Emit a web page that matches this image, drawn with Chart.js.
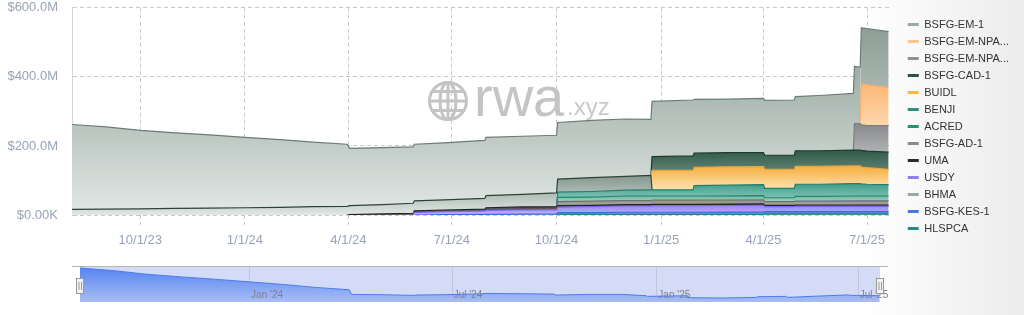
<!DOCTYPE html>
<html>
<head>
<meta charset="utf-8">
<script src="https://cdn.jsdelivr.net/npm/chart.js@4.4.1/dist/chart.umd.min.js"></script>
<style>
  html, body { margin: 0; padding: 0; }
  body {
    width: 1024px; height: 315px; overflow: hidden; position: relative;
    background: linear-gradient(90deg, #ffffff 0%, #ffffff 84%, #ececec 100%);
    font-family: "Liberation Sans", Arial, sans-serif;
  }
  #main { position: absolute; left: 0; top: 0; }
  #nav { position: absolute; left: 0; top: 256px; }
  .mark { position: absolute; color: #c4c4c4; line-height: 1; pointer-events: none; white-space: nowrap; }
  #globe { position: absolute; left: 427px; top: 80px; pointer-events: none; }
</style>
</head>
<body>
<canvas id="main" width="1024" height="254"></canvas>
<canvas id="nav" width="1024" height="59"></canvas>
<svg id="globe" width="42" height="42" viewBox="0 0 42 42">
  <g fill="none" stroke="#c4c4c4" stroke-width="3">
    <circle cx="21" cy="21" r="18.5"/>
    <ellipse cx="21" cy="21" rx="8" ry="18.5"/>
    <line x1="21" y1="2.5" x2="21" y2="39.5"/>
    <line x1="2.5" y1="21" x2="39.5" y2="21"/>
    <path d="M6 11.5 H36 M6 30.5 H36"/>
  </g>
</svg>
<div class="mark" style="left:474px; top:69px; font-size:56px;">rwa</div>
<div class="mark" style="left:567px; top:95px; font-size:24px; color:#cacaca;">.xyz</div>

<script>
// breakpoints (jumps are given as two dates one day apart)
const dates = ['2023-08-02','2023-09-01','2023-10-01','2023-11-01','2023-12-01','2024-01-01',
  '2024-02-01','2024-03-01','2024-03-31','2024-04-02','2024-05-01','2024-05-28','2024-05-29',
  '2024-06-24','2024-07-30','2024-07-31','2024-09-01','2024-10-01','2024-10-02','2024-11-01',
  '2024-12-01','2024-12-23','2024-12-24','2025-01-29','2025-01-30','2025-03-01','2025-04-01',
  '2025-04-02','2025-04-28','2025-04-29','2025-05-20','2025-06-19','2025-06-20','2025-06-25',
  '2025-06-26','2025-07-01','2025-07-20'];

// values in $M
const hlspca = [0,0,0,0,0,0,0,0,0,0,0,0,0,0,0,0,0,0,2,2,2,2,2,2,2,2,2,3,3,3,3,3,3,3,3,3,3];
const kes1   = [0,0,0,0,0,0,0,0,0,0,0,0,0,1.5,2,2,2.5,3,5,5,6,6,6,6,6,6.5,7,7,7,7,7,7,7,7,7,7,7];
const usdy   = [0,0,0,0,0,0,0,0,0,0,0,0,7,8,9,11,12,12,16,17,18,18,19,19,19,19,19,14,14,15,15,15,15,15,15,15,15];
const uma    = [0,0,0,0,0,0,0,0,0,1.5,3,5,5,5,6,8,9,9,4,4,4,4,4,4,4,4,4,4,4,4,4,4,4,4,4,4,4];
const ad1    = [0,0,0,0,0,0,0,0,0,0,0,0,0,0,0,0,0,0,12,12,12,12,12,12,12,12,12,11,11,11,11,12,12,12,12,12,12];
const acred  = [0,0,0,0,0,0,0,0,0,0,0,0,0,0,0,0,0,0,12,12,13,13,12,12,12,12,12,11,11,14,14,14,14,14,14,14,14];
const benji  = [0,0,0,0,0,0,0,0,0,0,0,0,0,0,0,0,0,0,15,16,17,18,18,18,30,31,32,27,27,35,35,36,36,36,35,34,33];
const bhma   = [16,17,18,19,20,21,22,24,25,25.5,27,29,29,29.5,31,35,36.5,40,38,40,40,42,0,0,0,0,0,0,0,0,0,0,0,0,0,0,0];
const buidl  = [0,0,0,0,0,0,0,0,0,0,0,0,0,0,0,0,0,0,0,0,0,0,56,56,53,53,52,55,55,52,52,51,51,51,49,48,44];
const cad1   = [0,0,0,0,0,0,0,0,0,0,0,0,0,0,0,0,0,0,0,0,0,0,40,42,41,41,41,41,41,45,45,46,46,46,48,48,50];
const npa2   = [0,0,0,0,0,0,0,0,0,0,0,0,0,0,0,0,0,0,0,0,0,0,0,0,0,0,0,0,0,0,0,0,77,77,74,74,77];
const npa1   = [0,0,0,0,0,0,0,0,0,0,0,0,0,0,0,0,0,0,0,0,0,0,0,0,0,0,0,0,0,0,0,0,0,0,118,118,110];
const em1    = [246,238,227,219,212,204,196,187,180,166,165,163,164,165,168,169,168,167,164,166,166,162,
  160,162,156,155,157,159,160,157,160,164,165,163,163,163,162];

const tickDates = ['2023-10-01','2024-01-01','2024-04-01','2024-07-01','2024-10-01','2025-01-01','2025-04-01','2025-07-01'];
const tickLabels = ['10/1/23','1/1/24','4/1/24','7/1/24','10/1/24','1/1/25','4/1/25','7/1/25'];
const yTicks = [0, 200, 400, 600];
const yTickLabels = ['$0.00K','$200.0M','$400.0M','$600.0M'];
const navTickDates = ['2024-01-01','2024-07-01','2025-01-01','2025-07-01'];
const navTickLabels = ["Jan '24","Jul '24","Jan '25","Jul '25"];

const legendOrder = ['BSFG-EM-1','BSFG-EM-NPA-1','BSFG-EM-NPA-2','BSFG-CAD-1','BUIDL','BENJI','ACRED',
  'BSFG-AD-1','UMA','USDY','BHMA','BSFG-KES-1','HLSPCA'];

const ms = (d) => Date.parse(d + 'T00:00:00Z');
const xMin = ms('2023-08-02');
const xMax = ms('2025-07-21');

// stack order, bottom first: [label, values, line, fill top, fill bottom, swatch]
const series = [
  ['HLSPCA', hlspca, '#23877c', '#2d9b8e', '#6dc1b6', '#2b8a7e'],
  ['BSFG-KES-1', kes1, '#3a6be0', '#4f7fe6', '#7fa2ee', '#4a78e8'],
  ['USDY', usdy, '#7c69ea', '#9886f2', '#c1b5f8', '#8f7ff0'],
  ['UMA', uma, '#222222', '#4a4a4a', '#6b6b6b', '#2a2a2a'],
  ['BSFG-AD-1', ad1, '#6f6f6f', '#8f8f8f', '#a9a9a9', '#8a8a8a'],
  ['ACRED', acred, '#1f8a6a', '#6db5a3', '#9fd0c3', '#23936f'],
  ['BENJI', benji, '#217d6b', '#3f9c8a', '#7fc2b3', '#2f8f7c'],
  ['BHMA', bhma, '#2e4139', '#84978d', '#e2e8e5', '#9aaaa2'],
  ['BUIDL', buidl, '#eca33a', '#f6ae3d', '#fde3b2', '#f6b84a'],
  ['BSFG-CAD-1', cad1, '#1d3a2e', '#2f5a48', '#5d8072', '#2d5243'],
  ['BSFG-EM-NPA-2', npa2, '#7a7c7f', '#87898c', '#b0b2b4', '#8f9193'],
  ['BSFG-EM-NPA-1', npa1, '#f7ad6a', '#fdb877', '#fdd6ab', '#fcc58f'],
  ['BSFG-EM-1', em1, '#6a7c74', '#8d9e96', '#e0e6e3', '#98aaa2'],
];

// vertical gradient spanning the band's own highest top and lowest base
function bandFill(i) {
  return (ctx) => {
    const chart = ctx.chart;
    const y = chart.scales.y;
    if (!chart.chartArea || !y) return series[i][4];
    let hi = 0, lo = Infinity;
    dates.forEach((d, k) => {
      if (!series[i][1][k]) return;
      let base = 0;
      for (let j = 0; j < i; j++) base += series[j][1][k];
      hi = Math.max(hi, base + series[i][1][k]);
      lo = Math.min(lo, base);
    });
    const g = chart.ctx.createLinearGradient(0, y.getPixelForValue(hi), 0, y.getPixelForValue(lo));
    g.addColorStop(0, series[i][3]);
    g.addColorStop(1, series[i][4]);
    return g;
  };
}

const datasets = series.map((s, i) => ({
  label: s[0],
  data: dates.map((d, k) => ({ x: ms(d), y: s[1][k] })),
  borderColor: s[2],
  borderWidth: 1.2,
  backgroundColor: bandFill(i),
  swatch: s[5],
  fill: i === 0 ? 'origin' : '-1',
  pointRadius: 0,
  tension: 0,
  segment: {
    // no line where the series is absent
    borderColor: (c) => (c.p0.parsed.y === 0 && c.p1.parsed.y === 0 ? 'rgba(0,0,0,0)' : undefined),
  },
}));

const axisColor = '#98a3b8';

// move the legend block a little right and down after layout
const legendNudge = {
  id: 'legendNudge',
  afterLayout(chart) {
    const lg = chart.legend;
    lg.left += 12; lg.right += 12;
    lg.top += 13; lg.bottom += 13;
  },
};

new Chart(document.getElementById('main'), {
  type: 'line',
  data: { datasets },
  options: {
    responsive: false,
    animation: false,
    events: [],
    layout: { padding: { top: 0, right: 17, left: 0, bottom: 0 } },
    plugins: {
      tooltip: { enabled: false },
      legend: {
        position: 'right',
        align: 'start',
        labels: {
          boxWidth: 11,
          boxHeight: 3,
          padding: 6,
          color: '#333333',
          font: { family: '"Liberation Sans", Arial, sans-serif', size: 11 },
          sort: (a, b) => legendOrder.indexOf(datasets[a.datasetIndex].label) - legendOrder.indexOf(datasets[b.datasetIndex].label),
          generateLabels: (chart) => chart.data.datasets.map((ds, i) => ({
            text: ds.label.length > 12 ? ds.label.slice(0, 11) + '...' : ds.label,
            fillStyle: ds.swatch,
            strokeStyle: ds.swatch,
            lineWidth: 0,
            fontColor: '#333333',
            hidden: false,
            datasetIndex: i,
          })),
        },
      },
    },
    scales: {
      x: {
        type: 'linear',
        min: xMin,
        max: xMax,
        afterBuildTicks: (scale) => { scale.ticks = tickDates.map((d) => ({ value: ms(d) })); },
        afterFit: (scale) => { scale.height = 39; },
        ticks: {
          color: axisColor,
          padding: 8,
          maxRotation: 0,
          font: { family: '"Liberation Sans", Arial, sans-serif', size: 13 },
          callback: (v) => tickLabels[tickDates.map(ms).indexOf(v)],
        },
        grid: { color: '#c9c9c9', tickLength: 10, tickColor: '#c9c9c9', tickBorderDash: [4, 3] },
        border: { display: false, dash: [4, 3] },
      },
      y: {
        stacked: true,
        min: 0,
        max: 600,
        afterBuildTicks: (scale) => { scale.ticks = yTicks.map((v) => ({ value: v })); },
        afterFit: (scale) => { scale.width = 72; },
        ticks: {
          color: axisColor,
          padding: 0,
          font: { family: '"Liberation Sans", Arial, sans-serif', size: 13 },
          callback: (v) => yTickLabels[yTicks.indexOf(v)],
        },
        grid: { color: '#c9c9c9', drawTicks: true, tickLength: 14, tickColor: 'rgba(0,0,0,0)' },
        border: { display: true, color: '#d6d6d6', dash: [4, 3] },
      },
    },
  },
  plugins: [legendNudge],
});

// navigator strip under the chart
const navDecor = {
  id: 'navDecor',
  beforeDatasetsDraw(chart) {
    const { ctx, chartArea: a, scales } = chart;
    ctx.save();
    ctx.fillStyle = '#d3dbf6';
    ctx.fillRect(a.left, a.top, a.right - a.left, a.bottom - a.top);
    ctx.strokeStyle = '#c0c6d8';
    ctx.lineWidth = 1;
    navTickDates.forEach((d) => {
      const x = Math.round(scales.x.getPixelForValue(ms(d))) + 0.5;
      ctx.beginPath(); ctx.moveTo(x, a.top); ctx.lineTo(x, a.bottom); ctx.stroke();
    });
    ctx.restore();
  },
  afterDatasetsDraw(chart) {
    const { ctx, chartArea: a, scales } = chart;
    ctx.save();
    ctx.fillStyle = '#7d8290';
    ctx.font = '10px "Liberation Sans", Arial, sans-serif';
    ctx.textBaseline = 'alphabetic';
    navTickLabels.forEach((t, i) => {
      ctx.fillText(t, scales.x.getPixelForValue(ms(navTickDates[i])) + 2, a.bottom - 4);
    });
    // outline
    ctx.strokeStyle = '#b5b5b5';
    ctx.beginPath(); ctx.moveTo(a.left - 8, a.top + 0.5); ctx.lineTo(a.right + 8, a.top + 0.5); ctx.stroke();
    // handles
    const cy = (a.top + a.bottom) / 2 + 2;
    [a.left, a.right].forEach((x) => {
      ctx.fillStyle = '#f2f2f2';
      ctx.strokeStyle = '#999999';
      ctx.fillRect(x - 3.5, cy - 7.5, 7, 15);
      ctx.strokeRect(x - 3.5, cy - 7.5, 7, 15);
      ctx.beginPath();
      ctx.moveTo(x - 1, cy - 4); ctx.lineTo(x - 1, cy + 4);
      ctx.moveTo(x + 1.5, cy - 4); ctx.lineTo(x + 1.5, cy + 4);
      ctx.stroke();
    });
    ctx.restore();
  },
};

new Chart(document.getElementById('nav'), {
  type: 'line',
  data: {
    datasets: [{
      data: dates.map((d, k) => ({ x: ms(d), y: em1[k] })),
      borderColor: '#4d7cee',
      borderWidth: 1,
      pointRadius: 0,
      fill: 'start',
      backgroundColor: (ctx) => {
        const a = ctx.chart.chartArea;
        if (!a) return '#7d9ef0';
        const g = ctx.chart.ctx.createLinearGradient(0, a.top, 0, a.bottom);
        g.addColorStop(0, '#5282ef');
        g.addColorStop(1, '#a9bdf4');
        return g;
      },
    }],
  },
  options: {
    responsive: false,
    animation: false,
    events: [],
    layout: { padding: { left: 80, right: 144, top: 10, bottom: 13 } },
    plugins: { legend: { display: false }, tooltip: { enabled: false } },
    scales: {
      x: { type: 'linear', min: xMin, max: xMax, display: false },
      y: { min: 143, max: 252, display: false },
    },
  },
  plugins: [navDecor],
});
</script>
</body>
</html>
